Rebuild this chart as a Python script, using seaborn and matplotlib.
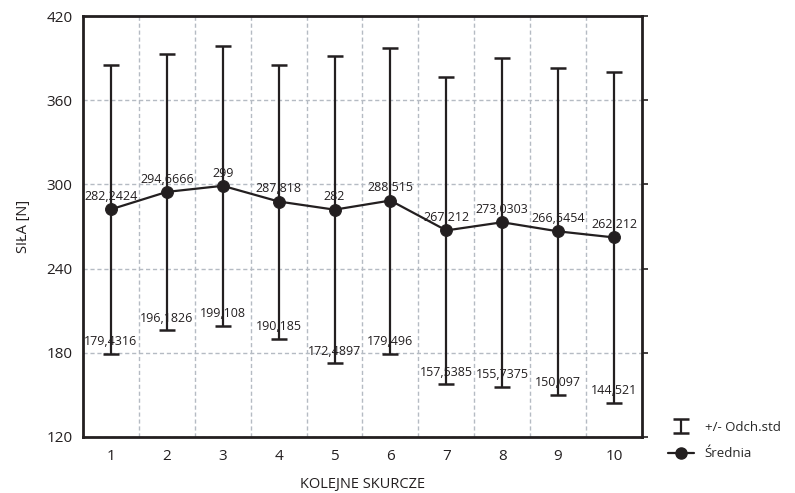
import numpy as np
import matplotlib
matplotlib.use("Agg")
import matplotlib.pyplot as plt
import seaborn as sns
from matplotlib.lines import Line2D

# data
skurcze = [1, 2, 3, 4, 5, 6, 7, 8, 9, 10]
srednia = [282.2424, 294.6666, 299, 287.818, 282, 288.515, 267.212, 273.0303, 266.5454, 262.212]
dolna = [179.4316, 196.1826, 199.108, 190.185, 172.4897, 179.496, 157.5385, 155.7375, 150.097, 144.521]
y_ticks = [120, 180, 240, 300, 360, 420]

sns.set_style("white")
plt.rcParams['font.family'] = ['Open Sans', 'DejaVu Sans']

ink = '#231f20'
mean = np.array(srednia, dtype=float)
odch = mean - np.array(dolna)


def fmt(v):
    return f"{v:.4f}".rstrip('0').rstrip('.').replace('.', ',')


fig = plt.figure(figsize=(7.95, 4.93), dpi=100)
ax = fig.add_axes([0.1044, 0.1136, 0.7031, 0.8539])

eb = ax.errorbar(skurcze, mean, yerr=odch, fmt='none', ecolor=ink,
                 elinewidth=1.6, capsize=5.8, capthick=1.8, zorder=2)
sns.lineplot(x=skurcze, y=srednia, marker='o', markersize=8.5, color=ink,
             linewidth=1.6, markeredgecolor=ink, ax=ax, zorder=3, legend=False)

for xi, m, lo in zip(skurcze, srednia, dolna):
    ax.annotate(fmt(m), (xi, m), xytext=(0, 4.5), textcoords='offset points',
                ha='center', va='bottom', fontsize=9, color=ink, zorder=4)
    ax.annotate(fmt(lo), (xi, lo), xytext=(0, 4), textcoords='offset points',
                ha='center', va='bottom', fontsize=9, color=ink, zorder=4)

ax.set_xlim(0.5, 10.5)
ax.set_ylim(120, 420)
ax.set_yticks(y_ticks)
ax.set_xticks(skurcze)
ax.set_xticks(np.arange(1.5, 10, 1), minor=True)
ax.tick_params(axis='x', which='major', length=0, labelsize=11, pad=9, colors=ink)
ax.tick_params(axis='x', which='minor', length=3, direction='in', width=1.2, color=ink)
ax.tick_params(axis='y', which='major', length=4, width=1.2, labelsize=11,
               direction='out', right=True, colors=ink)
ax.grid(which='minor', axis='x', color='#b5bbc3', linestyle=(0, (3, 2)), linewidth=1)
ax.grid(which='major', axis='y', color='#b5bbc3', linestyle=(0, (3, 2)), linewidth=1)
ax.grid(which='major', axis='x', visible=False)
for s in ax.spines.values():
    s.set_color(ink)
    s.set_linewidth(2)

ax.set_xlabel('KOLEJNE SKURCZE', fontsize=10.5, labelpad=9, color=ink)
ax.set_ylabel('SIŁA [N]', fontsize=10.5, labelpad=11, color=ink)

handles = [eb, Line2D([], [], color=ink, marker='o', markersize=8, linewidth=1.6)]
fig.legend(handles, ['+/- Odch.std', 'Średnia'], loc='lower left',
           bbox_to_anchor=(0.825, 0.042), frameon=False, fontsize=9.5,
           handlelength=2.0, handletextpad=0.8, labelspacing=1.05)

fig.savefig('out.png', dpi=100)
